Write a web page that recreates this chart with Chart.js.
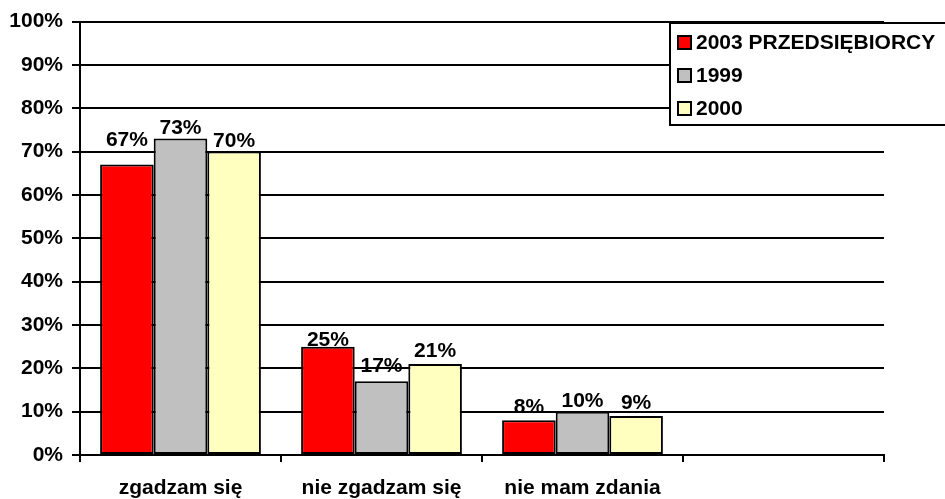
<!DOCTYPE html>
<html>
<head>
<meta charset="utf-8">
<script src="https://cdn.jsdelivr.net/npm/chart.js@4.4.1/dist/chart.umd.min.js"></script>
<style>
  html, body { margin: 0; padding: 0; background: #fff; }
  #wrap { width: 945px; height: 499px; }
</style>
</head>
<body>
<div id="wrap"><canvas id="chart" width="945" height="499"></canvas></div>
<script>
// --- DATA ---
const categories = ['zgadzam się', 'nie zgadzam się', 'nie mam zdania', ''];
const seriesNames = ['2003 PRZEDSIĘBIORCY', '1999', '2000'];
const values2003 = [67, 25, 8, null];
const values1999 = [73, 17, 10, null];
const values2000 = [70, 21, 9, null];
const yTicks = [0, 10, 20, 30, 40, 50, 60, 70, 80, 90, 100];

const colors = ['#FF0000', '#C0C0C0', '#FFFFC0'];
const FONT = '"Liberation Sans", Arial, sans-serif';

// drobne przesunięcia etykiet (jak w oryginale z Excela), klucz: seria-kategoria
const labelLift = { '0-0': 14, '0-1': -4, '1-1': 4, '2-1': 2, '0-2': 2, '2-2': 2 };

// etykiety wartości nad słupkami
const valueLabels = {
    id: 'valueLabels',
    afterDatasetsDraw(chart) {
        const ctx = chart.ctx;
        ctx.save();
        ctx.font = 'bold 21px ' + FONT;
        ctx.fillStyle = '#000';
        ctx.textAlign = 'center';
        ctx.textBaseline = 'alphabetic';
        chart.data.datasets.forEach((ds, i) => {
            chart.getDatasetMeta(i).data.forEach((bar, j) => {
                if (ds.data[j] == null) return;
                const lift = labelLift[i + '-' + j] || 0;
                ctx.fillText(ds.data[j] + '%', bar.x, bar.y - 5 - lift);
            });
        });
        ctx.restore();
    }
};

// legenda w ramce (prawy górny róg)
const boxLegend = {
    id: 'boxLegend',
    afterDraw(chart) {
        const ctx = chart.ctx;
        ctx.save();
        ctx.fillStyle = '#fff';
        ctx.fillRect(670, 23, 290, 102);
        ctx.strokeStyle = '#000';
        ctx.lineWidth = 2;
        ctx.strokeRect(670, 23, 290, 102);
        ctx.font = 'bold 21px ' + FONT;
        ctx.textBaseline = 'middle';
        ctx.textAlign = 'left';
        chart.data.datasets.forEach((ds, i) => {
            const cy = 42 + i * 33;
            ctx.fillStyle = ds.backgroundColor;
            ctx.fillRect(678, cy - 6, 13, 13);
            ctx.lineWidth = 2;
            ctx.strokeRect(678, cy - 6, 13, 13);
            ctx.fillStyle = '#000';
            ctx.fillText(ds.label, 696, cy + 1);
        });
        ctx.restore();
    }
};

new Chart(document.getElementById('chart'), {
    type: 'bar',
    data: {
        labels: categories,
        datasets: [values2003, values1999, values2000].map((vals, i) => ({
            label: seriesNames[i],
            data: vals,
            backgroundColor: colors[i],
            borderColor: '#000',
            borderWidth: 2,
            borderSkipped: false,
            categoryPercentage: 0.8,
            barPercentage: 1.0
        }))
    },
    options: {
        responsive: false,
        animation: false,
        layout: { padding: { top: 20, right: 61, left: 0, bottom: 0 } },
        plugins: { legend: { display: false }, tooltip: { enabled: false } },
        scales: {
            x: {
                afterFit: s => { s.height = 44; },
                grid: { display: true, drawOnChartArea: false, offset: true, color: '#000', lineWidth: 2, tickLength: 7 },
                border: { color: '#000', width: 2 },
                ticks: { color: '#000', font: { family: FONT, size: 21, weight: 'bold' }, padding: 14, maxRotation: 0 }
            },
            y: {
                min: 0, max: 100,
                afterFit: s => { s.width = 80; },
                afterBuildTicks: s => { s.ticks = yTicks.map(v => ({ value: v })); },
                grid: { color: '#000', lineWidth: 2, tickLength: 8 },
                border: { color: '#000', width: 2 },
                ticks: { color: '#000', font: { family: FONT, size: 21, weight: 'bold' }, padding: 9, callback: v => v + '%' }
            }
        }
    },
    plugins: [valueLabels, boxLegend]
});
</script>
</body>
</html>
